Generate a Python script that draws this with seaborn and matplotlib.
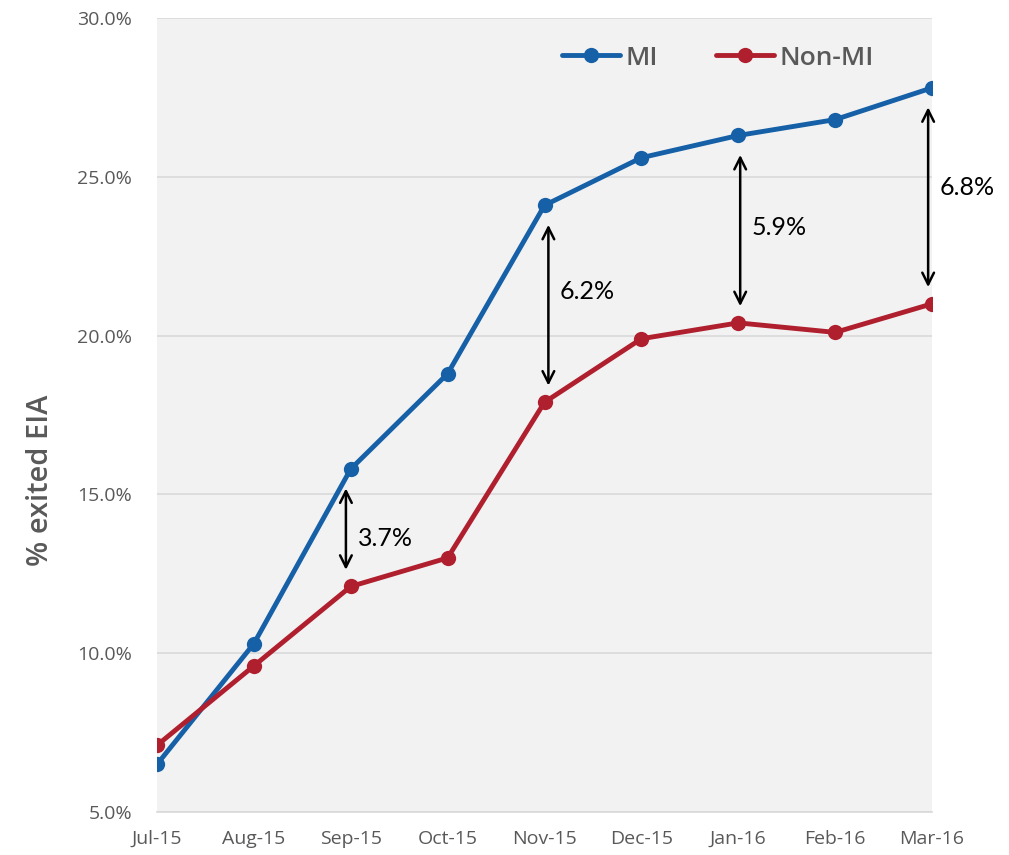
import numpy as np
import pandas as pd
import matplotlib
matplotlib.use("Agg")
import matplotlib.pyplot as plt
import seaborn as sns

# values (% exited EIA)
months = ["Jul-15", "Aug-15", "Sep-15", "Oct-15", "Nov-15",
          "Dec-15", "Jan-16", "Feb-16", "Mar-16"]
mi_pct = [6.5, 10.3, 15.8, 18.8, 24.1, 25.6, 26.3, 26.8, 27.8]
non_mi_pct = [7.1, 9.6, 12.1, 13.0, 17.9, 19.9, 20.4, 20.1, 21.0]
gap_months = ["Sep-15", "Nov-15", "Jan-16", "Mar-16"]
gap_labels = ["3.7%", "6.2%", "5.9%", "6.8%"]
# where the gap labels sit (y, in % units) and small x nudges of the arrows
gap_label_y = [13.6, 21.4, 23.4, 24.65]
gap_arrow_dx = [-0.05, 0.04, 0.02, -0.04]

BLUE = "#1660A7"
RED = "#B01F2E"
GREY_TXT = "#595959"

sns.set_theme(style="white")
plt.rcParams["font.family"] = ["Open Sans", "DejaVu Sans"]

df = pd.DataFrame({
    "month": months * 2,
    "pct": mi_pct + non_mi_pct,
    "group": ["MI"] * len(months) + ["Non-MI"] * len(months),
})

fig = plt.figure(figsize=(10.09, 8.55), dpi=100)
ax = fig.add_axes([0.1556, 0.0503, 0.7681, 0.9287])
ax.set_facecolor("#F2F2F2")

sns.lineplot(data=df, x="month", y="pct", hue="group", sort=False,
             palette={"MI": BLUE, "Non-MI": RED}, marker="o",
             markersize=11, markeredgewidth=0, linewidth=3.5, ax=ax)

ax.set_xlim(0, len(months) - 1)
ax.set_ylim(5, 30)
ax.set_yticks(np.arange(5, 30.1, 5))
ax.set_yticklabels([f"{v:.1f}%" for v in np.arange(5, 30.1, 5)])
ax.yaxis.grid(True, color="#D9D9D9", linewidth=1.2)
ax.set_axisbelow(True)
for s in ["top", "right", "left"]:
    ax.spines[s].set_visible(False)
ax.spines["bottom"].set_color("#D9D9D9")
ax.spines["bottom"].set_linewidth(1.2)
ax.tick_params(axis="x", length=8, width=1.2, color="#D9D9D9",
               labelsize=14, labelcolor=GREY_TXT, pad=5)
ax.tick_params(axis="y", length=0, labelsize=14, labelcolor=GREY_TXT, pad=18)
ax.set_xlabel("")
ax.set_ylabel("% exited EIA", fontsize=21, color=GREY_TXT,
              fontweight="semibold")
ax.yaxis.set_label_coords(-0.132, 0.418)

# gap arrows between the two series
for m, lab, ly, dx in zip(gap_months, gap_labels, gap_label_y, gap_arrow_dx):
    i = months.index(m)
    ax.annotate("", xy=(i + dx, mi_pct[i]), xytext=(i + dx, non_mi_pct[i]),
                arrowprops=dict(arrowstyle="<->,head_length=0.7,head_width=0.35",
                                color="black", lw=1.8, shrinkA=12, shrinkB=14))
    ax.text(i + dx + 0.12, ly, lab,
            fontsize=18, color="black", va="center", ha="left",
            family=["Lato", "DejaVu Sans"], clip_on=False)

handles, labels = ax.get_legend_handles_labels()
ax.legend(handles, labels, ncol=2, frameon=False, loc="upper right",
          bbox_to_anchor=(0.955, 0.995), handlelength=2.2,
          columnspacing=2.2, handletextpad=0.2, labelcolor=GREY_TXT,
          prop={"size": 19, "weight": "semibold"})

fig.savefig("out.png", dpi=100)
